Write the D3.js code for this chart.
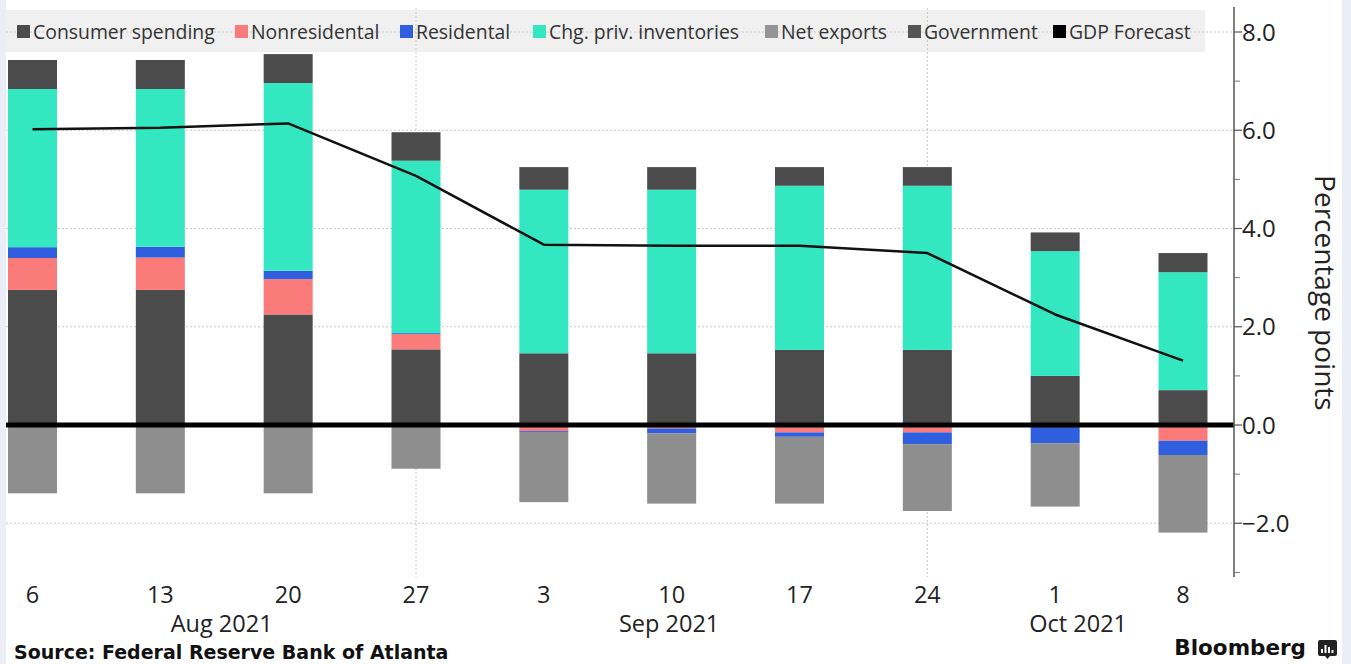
<!DOCTYPE html>
<html>
<head>
<meta charset="utf-8">
<script src="https://cdn.jsdelivr.net/npm/d3@7"></script>
<style>
  html, body { margin: 0; padding: 0; background: #ffffff; }
  svg { display: block; }
</style>
</head>
<body>
<svg id="chart" width="1351" height="664"></svg>
<script>
// ---- data ----
const weeks = ["6", "13", "20", "27", "3", "10", "17", "24", "1", "8"];
const consumer    = [2.75, 2.75, 2.25, 1.54, 1.46, 1.46, 1.53, 1.53, 1.00, 0.71];
const nonres      = [0.65, 0.66, 0.72, 0.31, -0.12, -0.07, -0.15, -0.15, -0.03, -0.32];
const residential = [0.22, 0.22, 0.17, 0.02, -0.02, -0.10, -0.09, -0.24, -0.34, -0.29];
const inventories = [3.22, 3.21, 3.82, 3.51, 3.33, 3.33, 3.34, 3.34, 2.54, 2.40];
const netExports  = [-1.39, -1.39, -1.39, -0.89, -1.43, -1.43, -1.36, -1.36, -1.29, -1.58];
const government  = [0.59, 0.59, 0.59, 0.58, 0.46, 0.46, 0.38, 0.38, 0.38, 0.39];
const gdpForecast = [6.02, 6.05, 6.14, 5.07, 3.67, 3.65, 3.65, 3.50, 2.25, 1.31];
const yMajorTicks = [-2, 0, 2, 4, 6, 8];
const yMinorTicks = [-3, -1, 1, 3, 5, 7];
const months = [
  { label: "Aug 2021", pos: 1.48 },
  { label: "Sep 2021", pos: 4.98 },
  { label: "Oct 2021", pos: 8.18 }
];
const monthBoundaries = [3, 7];
const seriesNames = ["Consumer spending", "Nonresidental", "Residental", "Chg. priv. inventories", "Net exports", "Government", "GDP Forecast"];

// ---- styles ----
const colors = {
  consumer: "#4b4b4b",
  nonres: "#fb7a7a",
  residential: "#2f5fdf",
  inventories: "#33e8c1",
  netExports: "#8e8e8e",
  government: "#4b4b4b"
};
const legendColors = ["#4b4b4b", "#fb7a7a", "#2f5fdf", "#33e8c1", "#959595", "#555555", "#000000"];

const W = 1351, H = 664;
const svg = d3.select("#chart");

// background side strips
svg.append("rect").attr("x", 0).attr("y", 0).attr("width", 6).attr("height", H).attr("fill", "#e9eef7");
svg.append("rect").attr("x", 1342).attr("y", 0).attr("width", W - 1342).attr("height", H).attr("fill", "#e9eef7");

// scales
const x = d3.scalePoint().domain(d3.range(weeks.length)).range([32.5, 1183]);
const xi = d3.scaleLinear().domain([0, weeks.length - 1]).range([32.5, 1183]);
const y = d3.scaleLinear().domain([-3, 8]).range([572.4, 32]);
const barW = 49;
const axisX = 1234;

// legend background
svg.append("rect").attr("x", 6).attr("y", 10).attr("width", 1199).attr("height", 42).attr("fill", "#f0f0f0");

// gridlines
const grid = svg.append("g");
grid.selectAll("line.h").data(yMajorTicks.filter(d => d !== 0)).join("line")
  .attr("x1", 6).attr("x2", axisX)
  .attr("y1", d => y(d)).attr("y2", d => y(d))
  .attr("stroke", "#c8c8c8").attr("stroke-width", 1).attr("stroke-dasharray", "2,2");
grid.selectAll("line.v").data(monthBoundaries).join("line")
  .attr("x1", d => x(d)).attr("x2", d => x(d))
  .attr("y1", 8).attr("y2", 577)
  .attr("stroke", "#c8c8c8").attr("stroke-width", 1).attr("stroke-dasharray", "2,2");

// legend
const legend = svg.append("g").attr("font-family", "'Open Sans', sans-serif").attr("font-size", 19.4).attr("fill", "#333");
const legendX = [17, 235, 400, 533, 765, 908, 1053];
seriesNames.forEach((name, i) => {
  legend.append("rect").attr("x", legendX[i]).attr("y", 25).attr("width", 13).attr("height", 13).attr("fill", legendColors[i]);
  legend.append("text").attr("x", legendX[i] + 16).attr("y", 38.8).text(name);
});

// stacked bars
const keys = ["consumer", "nonres", "residential", "inventories", "netExports", "government"];
const table = weeks.map((w, i) => ({
  i,
  consumer: consumer[i], nonres: nonres[i], residential: residential[i],
  inventories: inventories[i], netExports: netExports[i], government: government[i]
}));
const stack = d3.stack().keys(keys).offset(d3.stackOffsetDiverging)(table);
const bars = svg.append("g");
stack.forEach(layer => {
  bars.append("g").attr("fill", colors[layer.key])
    .selectAll("rect").data(layer).join("rect")
    .attr("x", d => x(d.data.i) - barW / 2)
    .attr("width", barW)
    .attr("y", d => y(Math.max(d[0], d[1])))
    .attr("height", d => Math.abs(y(d[0]) - y(d[1])));
});

// zero line
svg.append("line").attr("x1", 6).attr("x2", axisX).attr("y1", y(0)).attr("y2", y(0))
  .attr("stroke", "#000").attr("stroke-width", 5);

// GDP forecast line
const line = d3.line().x((d, i) => x(i)).y(d => y(d));
svg.append("path").datum(gdpForecast).attr("d", line)
  .attr("fill", "none").attr("stroke", "#111").attr("stroke-width", 2.5).attr("stroke-linejoin", "round");

// right axis
const ax = svg.append("g");
ax.append("line").attr("x1", axisX).attr("x2", axisX).attr("y1", 7).attr("y2", 577)
  .attr("stroke", "#555").attr("stroke-width", 1.5);
ax.selectAll("line.maj").data(yMajorTicks).join("line")
  .attr("x1", axisX).attr("x2", axisX + 8).attr("y1", d => y(d)).attr("y2", d => y(d))
  .attr("stroke", "#555").attr("stroke-width", 1.2);
ax.selectAll("line.min").data(yMinorTicks).join("line")
  .attr("x1", axisX).attr("x2", axisX + 6).attr("y1", d => y(d)).attr("y2", d => y(d))
  .attr("stroke", "#777").attr("stroke-width", 1);
ax.selectAll("text").data(yMajorTicks).join("text")
  .attr("x", axisX + 8).attr("y", d => y(d)).attr("dy", "0.36em")
  .attr("font-family", "'Open Sans', sans-serif").attr("font-size", 24).attr("fill", "#222")
  .text(d => d3.format(".1f")(d));

svg.append("text")
  .attr("transform", `translate(1315, ${y(2.69)}) rotate(90)`)
  .attr("text-anchor", "middle")
  .attr("font-family", "'Open Sans', sans-serif").attr("font-size", 28).attr("fill", "#222")
  .text("Percentage points");

// x labels
const xl = svg.append("g").attr("font-family", "'Open Sans', sans-serif").attr("font-size", 23.5).attr("fill", "#222").attr("text-anchor", "middle");
xl.selectAll("text.w").data(weeks).join("text")
  .attr("x", (d, i) => x(i)).attr("y", 603).text(d => d);
xl.selectAll("text.m").data(months).join("text")
  .attr("x", d => xi(d.pos)).attr("y", 632).text(d => d.label);

// footer
svg.append("text").attr("x", 14).attr("y", 659)
  .attr("font-family", "'DejaVu Sans', sans-serif").attr("font-weight", "bold").attr("font-size", 19).attr("fill", "#111")
  .text("Source: Federal Reserve Bank of Atlanta");
svg.append("text").attr("x", 1306).attr("y", 655).attr("text-anchor", "end")
  .attr("font-family", "'DejaVu Sans', sans-serif").attr("font-weight", "bold").attr("font-size", 21.5).attr("fill", "#111")
  .text("Bloomberg");
// logo glyph
const logo = svg.append("g").attr("transform", "translate(1318,640)");
logo.append("path").attr("d", "M2,0 H17 Q19,0 19,2 V14 Q19,16 17,16 H12 L9.5,19 L7,16 H2 Q0,16 0,14 V2 Q0,0 2,0 Z").attr("fill", "#222");
[[4, 9], [7.5, 5], [11, 7], [14.5, 10]].forEach(([bx, by]) => {
  logo.append("rect").attr("x", bx - 1).attr("y", by).attr("width", 2).attr("height", 13 - by).attr("fill", "#fff");
});
</script>
</body>
</html>
